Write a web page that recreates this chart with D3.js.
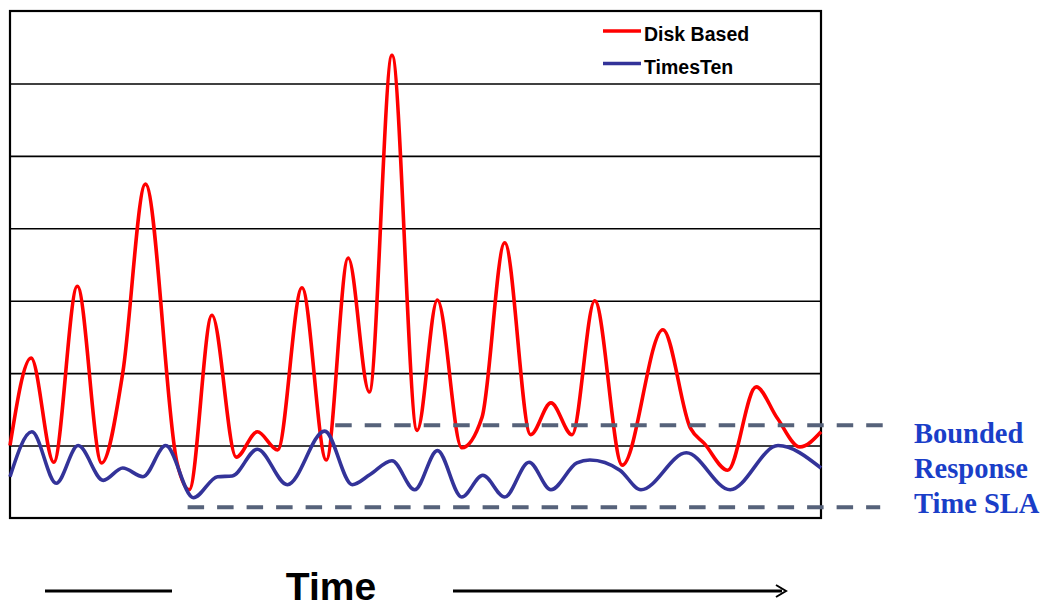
<!DOCTYPE html>
<html>
<head>
<meta charset="utf-8">
<script src="https://cdn.jsdelivr.net/npm/d3@7"></script>
<style>
  body { margin: 0; background: #fff; }
  svg { display: block; }
</style>
</head>
<body>
<svg id="chart" width="1041" height="605"></svg>
<script>
// ----------------------------------------------------------------------------
// DATA (time in % of window, response time in grid units)
// ----------------------------------------------------------------------------
var diskTime  = [0, 2.6, 5.4, 8.3, 11.3, 13.9, 16.7, 20.6, 22.1, 24.9, 27.9, 30.5, 33.0, 36.0, 39.0, 41.7, 44.3, 47.1, 50.2, 52.7, 55.7, 58.2, 61.0, 64.2, 66.7, 69.3, 72.1, 75.5, 80.5, 83.9, 85.6, 88.5, 92.0, 94.6, 97.4, 100];
var diskValue = [1.0, 2.21, 0.77, 3.2, 0.76, 2.0, 4.61, 0.76, 0.39, 2.8, 0.84, 1.19, 0.94, 3.18, 0.8, 3.59, 1.74, 6.39, 1.21, 3.01, 0.97, 1.39, 3.8, 1.15, 1.59, 1.15, 3.0, 0.73, 2.6, 1.24, 1.03, 0.66, 1.81, 1.38, 0.98, 1.19];

var ttTime  = [0, 2.7, 5.7, 8.4, 11.5, 13.9, 16.4, 19.2, 22.6, 25.6, 27.4, 30.5, 34.2, 38.8, 42.2, 44.4, 47.1, 49.9, 52.7, 55.7, 58.3, 61.0, 64.0, 66.7, 69.9, 71.5, 75.2, 77.8, 83.4, 88.8, 94.7, 100];
var ttValue = [0.57, 1.19, 0.48, 1.0, 0.52, 0.69, 0.57, 1.0, 0.28, 0.57, 0.58, 0.95, 0.46, 1.2, 0.46, 0.6, 0.79, 0.39, 0.93, 0.29, 0.59, 0.29, 0.77, 0.39, 0.76, 0.8, 0.66, 0.39, 0.9, 0.39, 1.0, 0.69];

// SLA band: [start time, end time, level]
var slaUpper = [40.1, 109.1, 1.28];
var slaLower = [21.9, 107.3, 0.15];
var slaLabel = ["Bounded", "Response", "Time SLA"];

var gridLevels = [1, 2, 3, 4, 5, 6];
var legendItems = [
    { name: "Disk Based", color: "#ff0000" },
    { name: "TimesTen", color: "#333399" }
];

// ----------------------------------------------------------------------------
// SETUP
// ----------------------------------------------------------------------------
var svg = d3.select("#chart");
var plotL = 10, plotT = 11, plotR = 821, plotB = 518;

var x = d3.scaleLinear().domain([0, 100]).range([plotL, plotR]);
var y = d3.scaleLinear().domain([0, 7]).range([plotB, plotT]);

// gridlines
svg.append("g")
    .attr("transform", "translate(" + plotL + ",0)")
    .call(d3.axisLeft(y).tickValues(gridLevels).tickSize(-(plotR - plotL)).tickFormat(""))
    .call(function(g) {
        g.select(".domain").remove();
        g.selectAll("line").attr("stroke", "#000").attr("stroke-width", 1.6);
    });

// frame
svg.append("rect")
    .attr("x", plotL).attr("y", plotT)
    .attr("width", plotR - plotL).attr("height", plotB - plotT)
    .attr("fill", "none").attr("stroke", "#000").attr("stroke-width", 2.2);

// ----------------------------------------------------------------------------
// SERIES
// ----------------------------------------------------------------------------
var line = d3.line()
    .x(function(d) { return x(d[0]); })
    .y(function(d) { return y(d[1]); })
    .curve(d3.curveMonotoneX);

svg.append("path")
    .datum(d3.zip(diskTime, diskValue))
    .attr("d", line)
    .attr("fill", "none")
    .attr("stroke", legendItems[0].color)
    .attr("stroke-width", 3.6)
    .attr("stroke-linejoin", "round");

svg.append("path")
    .datum(d3.zip(ttTime, ttValue))
    .attr("d", line)
    .attr("fill", "none")
    .attr("stroke", legendItems[1].color)
    .attr("stroke-width", 3.6)
    .attr("stroke-linejoin", "round");

// SLA dashed lines
[slaUpper, slaLower].forEach(function(s) {
    svg.append("line")
        .attr("x1", x(s[0])).attr("x2", x(s[1]))
        .attr("y1", y(s[2])).attr("y2", y(s[2]))
        .attr("stroke", "#56627a")
        .attr("stroke-width", 4)
        .attr("stroke-dasharray", "16.5,13");
});

svg.append("g").selectAll("text")
    .data(slaLabel).enter().append("text")
    .attr("x", 914)
    .attr("y", function(d, i) { return 443 + i * 35; })
    .attr("font-family", "'Liberation Serif', 'DejaVu Serif', serif")
    .attr("font-weight", "bold")
    .attr("font-size", 28.5)
    .attr("fill", "#1a3ec8")
    .text(function(d) { return d; });

// ----------------------------------------------------------------------------
// LEGEND
// ----------------------------------------------------------------------------
var legend = svg.append("g").selectAll("g")
    .data(legendItems).enter().append("g")
    .attr("transform", function(d, i) { return "translate(603," + (31 + i * 32.5) + ")"; });

legend.append("line")
    .attr("x1", 0).attr("x2", 38)
    .attr("stroke", function(d) { return d.color; })
    .attr("stroke-width", 3.6);

legend.append("text")
    .attr("x", 41).attr("y", 10)
    .attr("font-family", "'Liberation Sans', Arial, sans-serif")
    .attr("font-weight", "bold")
    .attr("font-size", 19.5)
    .attr("fill", "#000")
    .text(function(d) { return d.name; });

// ----------------------------------------------------------------------------
// TIME AXIS ARROW
// ----------------------------------------------------------------------------
svg.append("line")
    .attr("x1", 45).attr("x2", 172).attr("y1", 591).attr("y2", 591)
    .attr("stroke", "#000").attr("stroke-width", 3);

svg.append("line")
    .attr("x1", 453).attr("x2", 782).attr("y1", 591).attr("y2", 591)
    .attr("stroke", "#000").attr("stroke-width", 3);

svg.append("path")
    .attr("d", "M776,585 L786,591 L776,597")
    .attr("fill", "none").attr("stroke", "#000").attr("stroke-width", 2);

svg.append("text")
    .attr("x", 331).attr("y", 600)
    .attr("text-anchor", "middle")
    .attr("font-family", "'Liberation Sans', Arial, sans-serif")
    .attr("font-weight", "bold")
    .attr("font-size", 39)
    .attr("fill", "#000")
    .text("Time");
</script>
</body>
</html>
